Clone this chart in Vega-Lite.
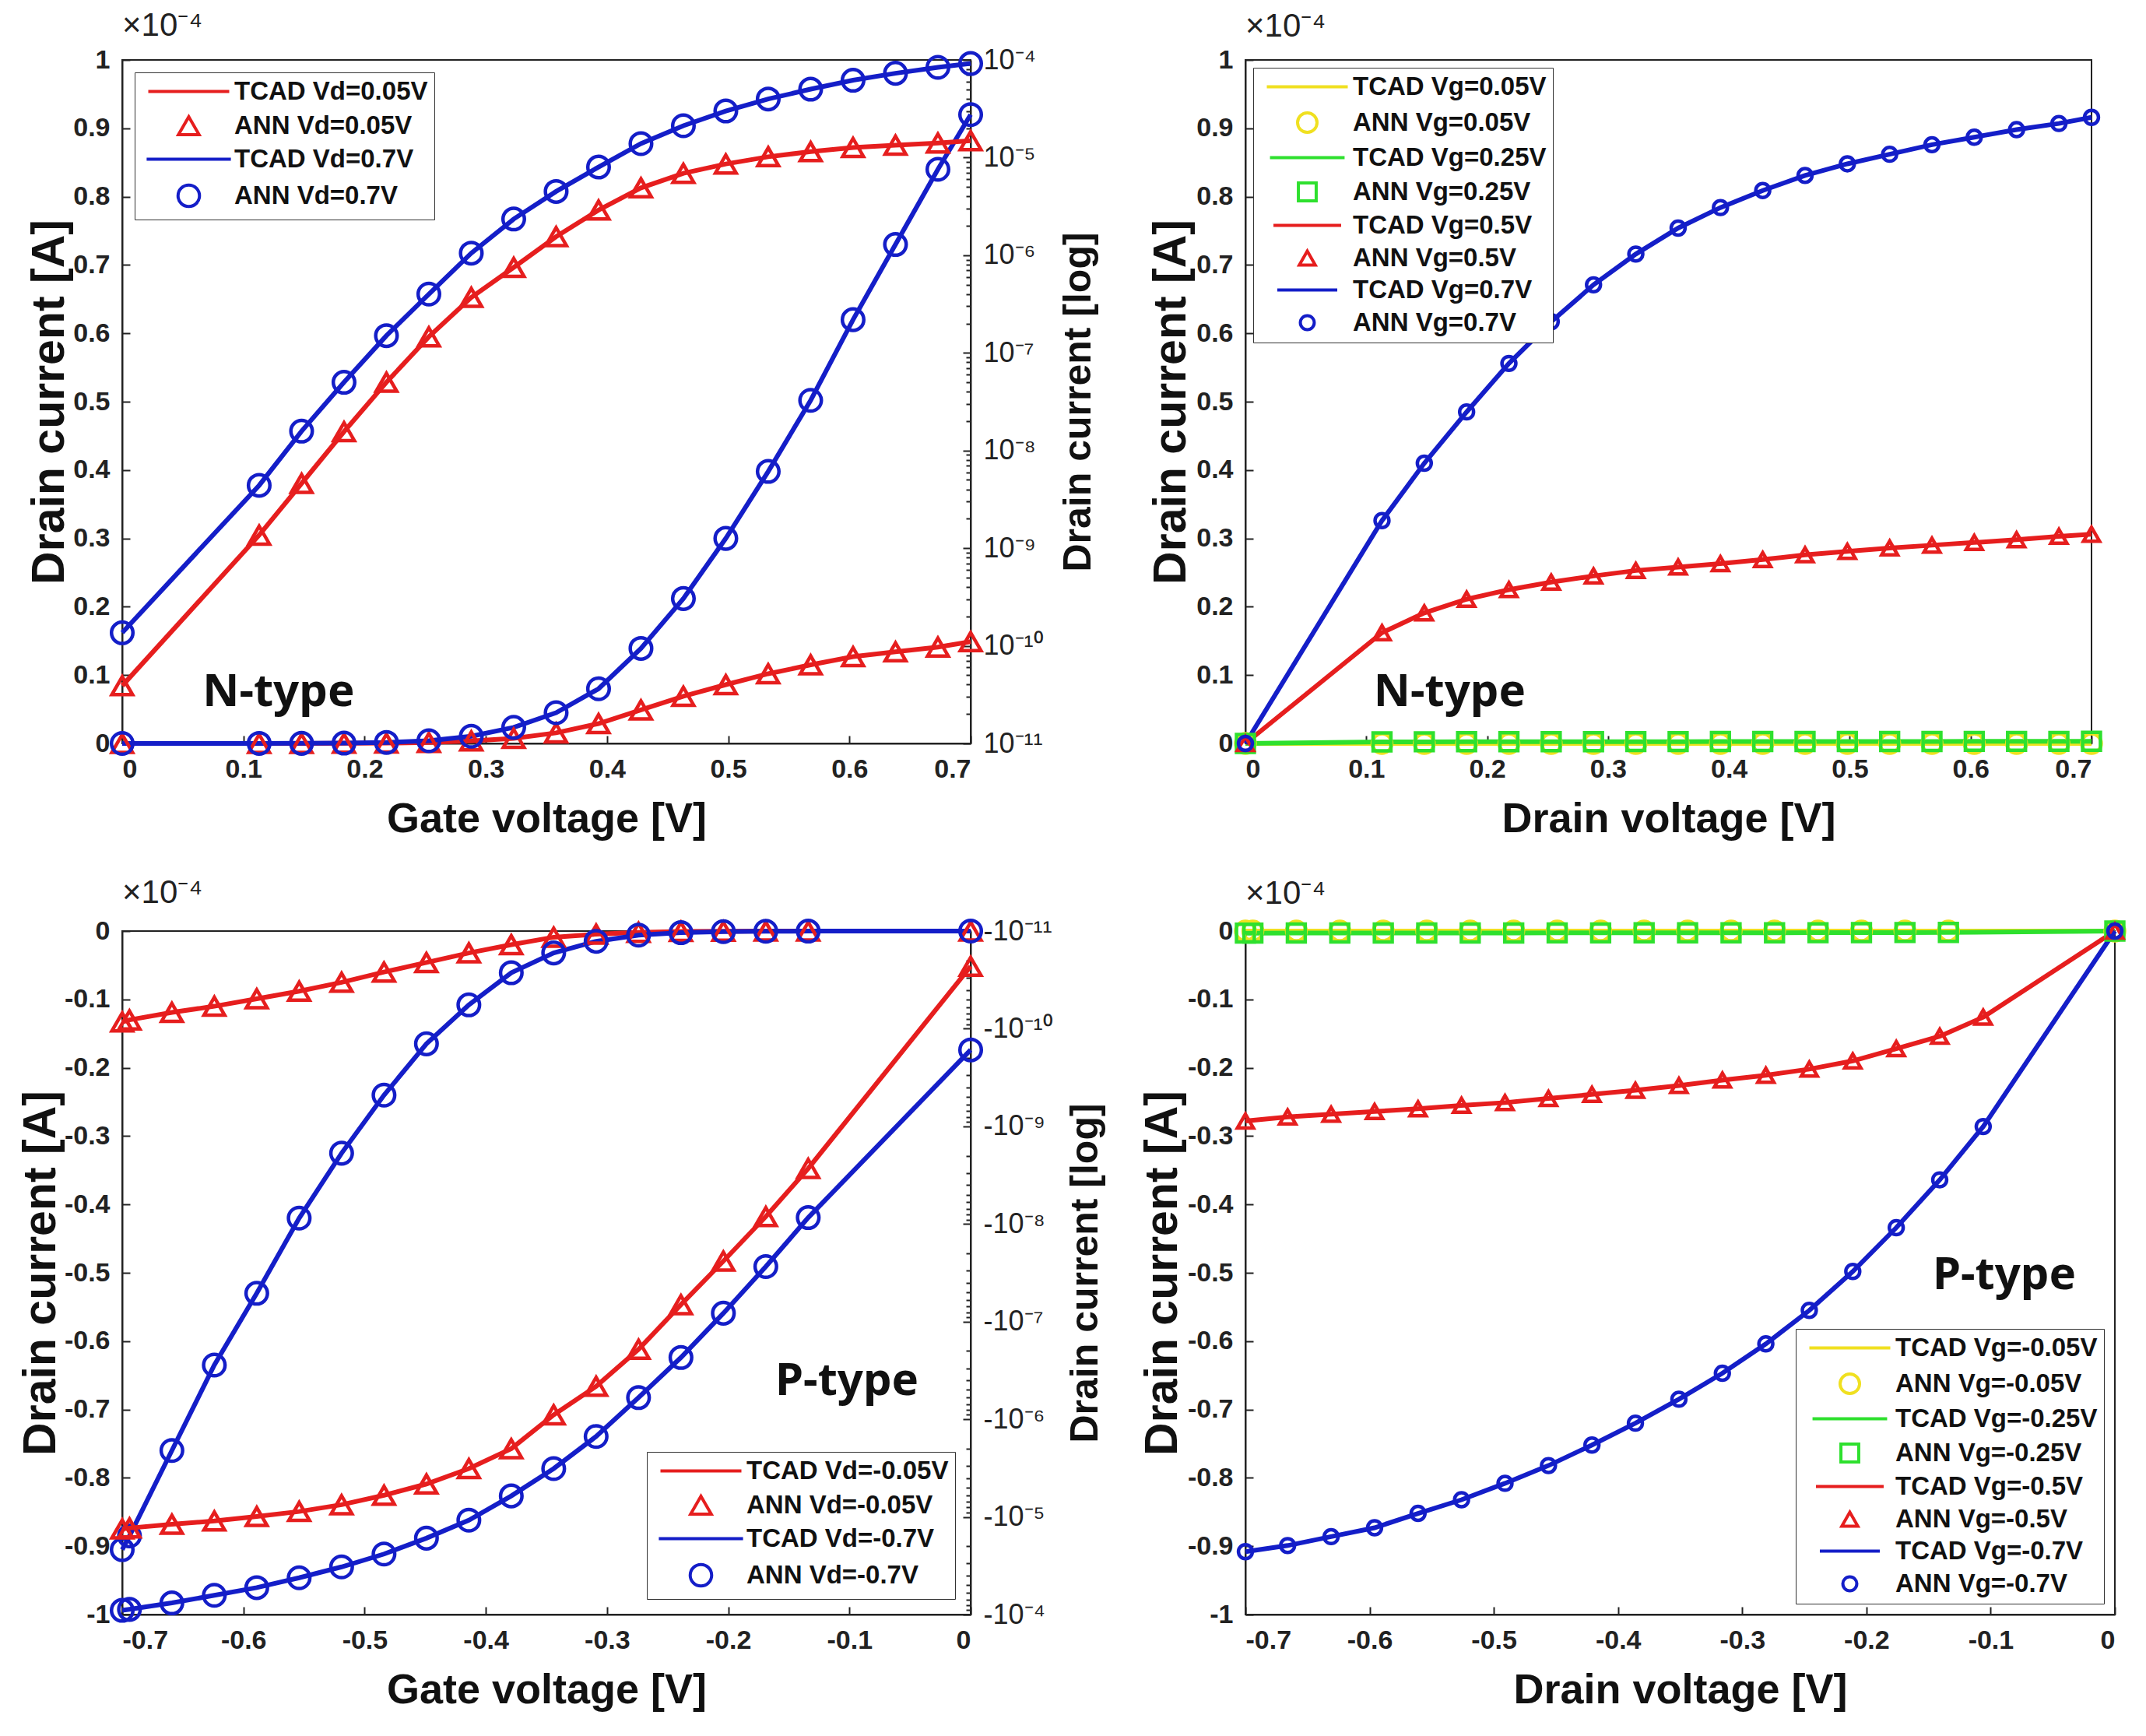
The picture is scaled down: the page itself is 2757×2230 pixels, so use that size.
{
  "$schema": "https://vega.github.io/schema/vega-lite/v6.json",
  "background": "white",
  "padding": {"left": 22, "top": 10, "right": 10, "bottom": 10},
  "config": {
    "font": "Liberation Sans",
    "view": {"stroke": "#222", "strokeWidth": 2},
    "axis": {
      "grid": false,
      "labelFont": "Liberation Sans",
      "labelFontSize": 34,
      "labelFontWeight": "bold",
      "labelColor": "#222",
      "titleFont": "Liberation Sans",
      "titleFontSize": 54,
      "titleFontWeight": "bold",
      "titleColor": "#111",
      "tickSize": -10,
      "tickWidth": 2,
      "tickColor": "#222",
      "labelPadding": 26,
      "domainColor": "#222",
      "domainWidth": 2
    },
    "legend": {
      "fillColor": "white",
      "strokeColor": "#333",
      "padding": 8,
      "labelFont": "Liberation Sans",
      "labelFontSize": 33,
      "labelFontWeight": "bold",
      "labelColor": "#111",
      "labelLimit": 0,
      "symbolStrokeWidth": 4,
      "symbolOffset": 45,
      "labelOffset": 42,
      "rowPadding": 7
    },
    "title": {"font": "Liberation Sans", "fontSize": 42, "fontWeight": "normal", "color": "#222", "anchor": "start", "frame": "group", "offset": 0}
  },
  "datasets": {
    "tl": [
      {"v": 0, "bias": "Vd=0.05V", "id": 3.9e-11},
      {"v": 0.113, "bias": "Vd=0.05V", "id": 1.36e-9},
      {"v": 0.148, "bias": "Vd=0.05V", "id": 4.6e-9},
      {"v": 0.183, "bias": "Vd=0.05V", "id": 1.56e-8},
      {"v": 0.218, "bias": "Vd=0.05V", "id": 5.0e-8},
      {"v": 0.253, "bias": "Vd=0.05V", "id": 1.46e-7},
      {"v": 0.288, "bias": "Vd=0.05V", "id": 3.7e-7},
      {"v": 0.323, "bias": "Vd=0.05V", "id": 7.5e-7},
      {"v": 0.358, "bias": "Vd=0.05V", "id": 1.55e-6},
      {"v": 0.393, "bias": "Vd=0.05V", "id": 2.9e-6},
      {"v": 0.428, "bias": "Vd=0.05V", "id": 4.9e-6},
      {"v": 0.463, "bias": "Vd=0.05V", "id": 6.9e-6},
      {"v": 0.498, "bias": "Vd=0.05V", "id": 8.6e-6},
      {"v": 0.533, "bias": "Vd=0.05V", "id": 1.02e-5},
      {"v": 0.568, "bias": "Vd=0.05V", "id": 1.15e-5},
      {"v": 0.603, "bias": "Vd=0.05V", "id": 1.27e-5},
      {"v": 0.638, "bias": "Vd=0.05V", "id": 1.34e-5},
      {"v": 0.673, "bias": "Vd=0.05V", "id": 1.41e-5},
      {"v": 0.7, "bias": "Vd=0.05V", "id": 1.49e-5},
      {"v": 0, "bias": "Vd=0.7V", "id": 1.36e-10},
      {"v": 0.113, "bias": "Vd=0.7V", "id": 4.4e-9},
      {"v": 0.148, "bias": "Vd=0.7V", "id": 1.58e-8},
      {"v": 0.183, "bias": "Vd=0.7V", "id": 5.0e-8},
      {"v": 0.218, "bias": "Vd=0.7V", "id": 1.5e-7},
      {"v": 0.253, "bias": "Vd=0.7V", "id": 4.0e-7},
      {"v": 0.288, "bias": "Vd=0.7V", "id": 1.05e-6},
      {"v": 0.323, "bias": "Vd=0.7V", "id": 2.35e-6},
      {"v": 0.358, "bias": "Vd=0.7V", "id": 4.5e-6},
      {"v": 0.393, "bias": "Vd=0.7V", "id": 8.0e-6},
      {"v": 0.428, "bias": "Vd=0.7V", "id": 1.39e-5},
      {"v": 0.463, "bias": "Vd=0.7V", "id": 2.12e-5},
      {"v": 0.498, "bias": "Vd=0.7V", "id": 3.0e-5},
      {"v": 0.533, "bias": "Vd=0.7V", "id": 3.98e-5},
      {"v": 0.568, "bias": "Vd=0.7V", "id": 5.02e-5},
      {"v": 0.603, "bias": "Vd=0.7V", "id": 6.2e-5},
      {"v": 0.638, "bias": "Vd=0.7V", "id": 7.3e-5},
      {"v": 0.673, "bias": "Vd=0.7V", "id": 8.4e-5},
      {"v": 0.7, "bias": "Vd=0.7V", "id": 9.2e-5}
    ],
    "tr": [
      {"v": 0, "bias": "Vg=0.05V", "id": 0},
      {"v": 0.113, "bias": "Vg=0.05V", "id": 1.6e-9},
      {"v": 0.148, "bias": "Vg=0.05V", "id": 1.7e-9},
      {"v": 0.183, "bias": "Vg=0.05V", "id": 1.8e-9},
      {"v": 0.218, "bias": "Vg=0.05V", "id": 1.8e-9},
      {"v": 0.253, "bias": "Vg=0.05V", "id": 1.9e-9},
      {"v": 0.288, "bias": "Vg=0.05V", "id": 1.9e-9},
      {"v": 0.323, "bias": "Vg=0.05V", "id": 1.9e-9},
      {"v": 0.358, "bias": "Vg=0.05V", "id": 2.0e-9},
      {"v": 0.393, "bias": "Vg=0.05V", "id": 2.0e-9},
      {"v": 0.428, "bias": "Vg=0.05V", "id": 2.0e-9},
      {"v": 0.463, "bias": "Vg=0.05V", "id": 2.0e-9},
      {"v": 0.498, "bias": "Vg=0.05V", "id": 2.1e-9},
      {"v": 0.533, "bias": "Vg=0.05V", "id": 2.1e-9},
      {"v": 0.568, "bias": "Vg=0.05V", "id": 2.1e-9},
      {"v": 0.603, "bias": "Vg=0.05V", "id": 2.1e-9},
      {"v": 0.638, "bias": "Vg=0.05V", "id": 2.2e-9},
      {"v": 0.673, "bias": "Vg=0.05V", "id": 2.2e-9},
      {"v": 0.7, "bias": "Vg=0.05V", "id": 2.2e-9},
      {"v": 0, "bias": "Vg=0.25V", "id": 0},
      {"v": 0.113, "bias": "Vg=0.25V", "id": 2.3e-7},
      {"v": 0.148, "bias": "Vg=0.25V", "id": 2.4e-7},
      {"v": 0.183, "bias": "Vg=0.25V", "id": 2.5e-7},
      {"v": 0.218, "bias": "Vg=0.25V", "id": 2.5e-7},
      {"v": 0.253, "bias": "Vg=0.25V", "id": 2.6e-7},
      {"v": 0.288, "bias": "Vg=0.25V", "id": 2.6e-7},
      {"v": 0.323, "bias": "Vg=0.25V", "id": 2.7e-7},
      {"v": 0.358, "bias": "Vg=0.25V", "id": 2.7e-7},
      {"v": 0.393, "bias": "Vg=0.25V", "id": 2.8e-7},
      {"v": 0.428, "bias": "Vg=0.25V", "id": 2.8e-7},
      {"v": 0.463, "bias": "Vg=0.25V", "id": 2.8e-7},
      {"v": 0.498, "bias": "Vg=0.25V", "id": 2.9e-7},
      {"v": 0.533, "bias": "Vg=0.25V", "id": 2.9e-7},
      {"v": 0.568, "bias": "Vg=0.25V", "id": 2.9e-7},
      {"v": 0.603, "bias": "Vg=0.25V", "id": 3.0e-7},
      {"v": 0.638, "bias": "Vg=0.25V", "id": 3.0e-7},
      {"v": 0.673, "bias": "Vg=0.25V", "id": 3.0e-7},
      {"v": 0.7, "bias": "Vg=0.25V", "id": 3.1e-7},
      {"v": 0, "bias": "Vg=0.5V", "id": 0},
      {"v": 0.113, "bias": "Vg=0.5V", "id": 1.62e-5},
      {"v": 0.148, "bias": "Vg=0.5V", "id": 1.91e-5},
      {"v": 0.183, "bias": "Vg=0.5V", "id": 2.11e-5},
      {"v": 0.218, "bias": "Vg=0.5V", "id": 2.25e-5},
      {"v": 0.253, "bias": "Vg=0.5V", "id": 2.36e-5},
      {"v": 0.288, "bias": "Vg=0.5V", "id": 2.45e-5},
      {"v": 0.323, "bias": "Vg=0.5V", "id": 2.53e-5},
      {"v": 0.358, "bias": "Vg=0.5V", "id": 2.58e-5},
      {"v": 0.393, "bias": "Vg=0.5V", "id": 2.63e-5},
      {"v": 0.428, "bias": "Vg=0.5V", "id": 2.69e-5},
      {"v": 0.463, "bias": "Vg=0.5V", "id": 2.76e-5},
      {"v": 0.498, "bias": "Vg=0.5V", "id": 2.81e-5},
      {"v": 0.533, "bias": "Vg=0.5V", "id": 2.86e-5},
      {"v": 0.568, "bias": "Vg=0.5V", "id": 2.9e-5},
      {"v": 0.603, "bias": "Vg=0.5V", "id": 2.94e-5},
      {"v": 0.638, "bias": "Vg=0.5V", "id": 2.98e-5},
      {"v": 0.673, "bias": "Vg=0.5V", "id": 3.03e-5},
      {"v": 0.7, "bias": "Vg=0.5V", "id": 3.06e-5},
      {"v": 0, "bias": "Vg=0.7V", "id": 0},
      {"v": 0.113, "bias": "Vg=0.7V", "id": 3.26e-5},
      {"v": 0.148, "bias": "Vg=0.7V", "id": 4.1e-5},
      {"v": 0.183, "bias": "Vg=0.7V", "id": 4.85e-5},
      {"v": 0.218, "bias": "Vg=0.7V", "id": 5.56e-5},
      {"v": 0.253, "bias": "Vg=0.7V", "id": 6.17e-5},
      {"v": 0.288, "bias": "Vg=0.7V", "id": 6.71e-5},
      {"v": 0.323, "bias": "Vg=0.7V", "id": 7.16e-5},
      {"v": 0.358, "bias": "Vg=0.7V", "id": 7.54e-5},
      {"v": 0.393, "bias": "Vg=0.7V", "id": 7.84e-5},
      {"v": 0.428, "bias": "Vg=0.7V", "id": 8.09e-5},
      {"v": 0.463, "bias": "Vg=0.7V", "id": 8.31e-5},
      {"v": 0.498, "bias": "Vg=0.7V", "id": 8.48e-5},
      {"v": 0.533, "bias": "Vg=0.7V", "id": 8.62e-5},
      {"v": 0.568, "bias": "Vg=0.7V", "id": 8.76e-5},
      {"v": 0.603, "bias": "Vg=0.7V", "id": 8.87e-5},
      {"v": 0.638, "bias": "Vg=0.7V", "id": 8.98e-5},
      {"v": 0.673, "bias": "Vg=0.7V", "id": 9.07e-5},
      {"v": 0.7, "bias": "Vg=0.7V", "id": 9.16e-5}
    ],
    "bl": [
      {"v": -0.7, "bias": "Vd=-0.05V", "id": -1.33e-5},
      {"v": -0.694, "bias": "Vd=-0.05V", "id": -1.3e-5},
      {"v": -0.659, "bias": "Vd=-0.05V", "id": -1.19e-5},
      {"v": -0.624, "bias": "Vd=-0.05V", "id": -1.1e-5},
      {"v": -0.589, "bias": "Vd=-0.05V", "id": -9.9e-6},
      {"v": -0.554, "bias": "Vd=-0.05V", "id": -8.8e-6},
      {"v": -0.519, "bias": "Vd=-0.05V", "id": -7.5e-6},
      {"v": -0.484, "bias": "Vd=-0.05V", "id": -6.0e-6},
      {"v": -0.449, "bias": "Vd=-0.05V", "id": -4.6e-6},
      {"v": -0.414, "bias": "Vd=-0.05V", "id": -3.2e-6},
      {"v": -0.379, "bias": "Vd=-0.05V", "id": -2.0e-6},
      {"v": -0.344, "bias": "Vd=-0.05V", "id": -9.0e-7},
      {"v": -0.309, "bias": "Vd=-0.05V", "id": -4.6e-7},
      {"v": -0.274, "bias": "Vd=-0.05V", "id": -1.92e-7},
      {"v": -0.239, "bias": "Vd=-0.05V", "id": -6.7e-8},
      {"v": -0.204, "bias": "Vd=-0.05V", "id": -2.4e-8},
      {"v": -0.169, "bias": "Vd=-0.05V", "id": -8.4e-9},
      {"v": -0.134, "bias": "Vd=-0.05V", "id": -2.7e-9},
      {"v": 0, "bias": "Vd=-0.05V", "id": -2.3e-11},
      {"v": -0.7, "bias": "Vd=-0.7V", "id": -9.05e-5},
      {"v": -0.694, "bias": "Vd=-0.7V", "id": -8.85e-5},
      {"v": -0.659, "bias": "Vd=-0.7V", "id": -7.6e-5},
      {"v": -0.624, "bias": "Vd=-0.7V", "id": -6.35e-5},
      {"v": -0.589, "bias": "Vd=-0.7V", "id": -5.3e-5},
      {"v": -0.554, "bias": "Vd=-0.7V", "id": -4.2e-5},
      {"v": -0.519, "bias": "Vd=-0.7V", "id": -3.25e-5},
      {"v": -0.484, "bias": "Vd=-0.7V", "id": -2.4e-5},
      {"v": -0.449, "bias": "Vd=-0.7V", "id": -1.65e-5},
      {"v": -0.414, "bias": "Vd=-0.7V", "id": -1.08e-5},
      {"v": -0.379, "bias": "Vd=-0.7V", "id": -6.1e-6},
      {"v": -0.344, "bias": "Vd=-0.7V", "id": -3.2e-6},
      {"v": -0.309, "bias": "Vd=-0.7V", "id": -1.5e-6},
      {"v": -0.274, "bias": "Vd=-0.7V", "id": -6.0e-7},
      {"v": -0.239, "bias": "Vd=-0.7V", "id": -2.33e-7},
      {"v": -0.204, "bias": "Vd=-0.7V", "id": -8.2e-8},
      {"v": -0.169, "bias": "Vd=-0.7V", "id": -2.73e-8},
      {"v": -0.134, "bias": "Vd=-0.7V", "id": -8.6e-9},
      {"v": 0, "bias": "Vd=-0.7V", "id": -1.65e-10}
    ],
    "br": [
      {"v": -0.7, "bias": "Vg=-0.05V", "id": -2.2e-9},
      {"v": -0.694, "bias": "Vg=-0.05V", "id": -2.2e-9},
      {"v": -0.659, "bias": "Vg=-0.05V", "id": -2.2e-9},
      {"v": -0.624, "bias": "Vg=-0.05V", "id": -2.1e-9},
      {"v": -0.589, "bias": "Vg=-0.05V", "id": -2.1e-9},
      {"v": -0.554, "bias": "Vg=-0.05V", "id": -2.1e-9},
      {"v": -0.519, "bias": "Vg=-0.05V", "id": -2.0e-9},
      {"v": -0.484, "bias": "Vg=-0.05V", "id": -2.0e-9},
      {"v": -0.449, "bias": "Vg=-0.05V", "id": -2.0e-9},
      {"v": -0.414, "bias": "Vg=-0.05V", "id": -1.9e-9},
      {"v": -0.379, "bias": "Vg=-0.05V", "id": -1.9e-9},
      {"v": -0.344, "bias": "Vg=-0.05V", "id": -1.9e-9},
      {"v": -0.309, "bias": "Vg=-0.05V", "id": -1.8e-9},
      {"v": -0.274, "bias": "Vg=-0.05V", "id": -1.8e-9},
      {"v": -0.239, "bias": "Vg=-0.05V", "id": -1.7e-9},
      {"v": -0.204, "bias": "Vg=-0.05V", "id": -1.7e-9},
      {"v": -0.169, "bias": "Vg=-0.05V", "id": -1.6e-9},
      {"v": -0.134, "bias": "Vg=-0.05V", "id": -1.5e-9},
      {"v": 0, "bias": "Vg=-0.05V", "id": 0},
      {"v": -0.7, "bias": "Vg=-0.25V", "id": -3.0e-7},
      {"v": -0.694, "bias": "Vg=-0.25V", "id": -3.0e-7},
      {"v": -0.659, "bias": "Vg=-0.25V", "id": -2.9e-7},
      {"v": -0.624, "bias": "Vg=-0.25V", "id": -2.9e-7},
      {"v": -0.589, "bias": "Vg=-0.25V", "id": -2.9e-7},
      {"v": -0.554, "bias": "Vg=-0.25V", "id": -2.8e-7},
      {"v": -0.519, "bias": "Vg=-0.25V", "id": -2.8e-7},
      {"v": -0.484, "bias": "Vg=-0.25V", "id": -2.8e-7},
      {"v": -0.449, "bias": "Vg=-0.25V", "id": -2.7e-7},
      {"v": -0.414, "bias": "Vg=-0.25V", "id": -2.7e-7},
      {"v": -0.379, "bias": "Vg=-0.25V", "id": -2.6e-7},
      {"v": -0.344, "bias": "Vg=-0.25V", "id": -2.6e-7},
      {"v": -0.309, "bias": "Vg=-0.25V", "id": -2.5e-7},
      {"v": -0.274, "bias": "Vg=-0.25V", "id": -2.5e-7},
      {"v": -0.239, "bias": "Vg=-0.25V", "id": -2.4e-7},
      {"v": -0.204, "bias": "Vg=-0.25V", "id": -2.3e-7},
      {"v": -0.169, "bias": "Vg=-0.25V", "id": -2.2e-7},
      {"v": -0.134, "bias": "Vg=-0.25V", "id": -2.0e-7},
      {"v": 0, "bias": "Vg=-0.25V", "id": 0},
      {"v": -0.7, "bias": "Vg=-0.5V", "id": -2.78e-5},
      {"v": -0.666, "bias": "Vg=-0.5V", "id": -2.72e-5},
      {"v": -0.631, "bias": "Vg=-0.5V", "id": -2.68e-5},
      {"v": -0.596, "bias": "Vg=-0.5V", "id": -2.64e-5},
      {"v": -0.561, "bias": "Vg=-0.5V", "id": -2.6e-5},
      {"v": -0.526, "bias": "Vg=-0.5V", "id": -2.55e-5},
      {"v": -0.491, "bias": "Vg=-0.5V", "id": -2.51e-5},
      {"v": -0.456, "bias": "Vg=-0.5V", "id": -2.45e-5},
      {"v": -0.421, "bias": "Vg=-0.5V", "id": -2.39e-5},
      {"v": -0.386, "bias": "Vg=-0.5V", "id": -2.33e-5},
      {"v": -0.351, "bias": "Vg=-0.5V", "id": -2.26e-5},
      {"v": -0.316, "bias": "Vg=-0.5V", "id": -2.18e-5},
      {"v": -0.281, "bias": "Vg=-0.5V", "id": -2.11e-5},
      {"v": -0.246, "bias": "Vg=-0.5V", "id": -2.02e-5},
      {"v": -0.211, "bias": "Vg=-0.5V", "id": -1.9e-5},
      {"v": -0.176, "bias": "Vg=-0.5V", "id": -1.72e-5},
      {"v": -0.141, "bias": "Vg=-0.5V", "id": -1.54e-5},
      {"v": -0.106, "bias": "Vg=-0.5V", "id": -1.26e-5},
      {"v": 0, "bias": "Vg=-0.5V", "id": 0},
      {"v": -0.7, "bias": "Vg=-0.7V", "id": -9.08e-5},
      {"v": -0.666, "bias": "Vg=-0.7V", "id": -8.99e-5},
      {"v": -0.631, "bias": "Vg=-0.7V", "id": -8.86e-5},
      {"v": -0.596, "bias": "Vg=-0.7V", "id": -8.73e-5},
      {"v": -0.561, "bias": "Vg=-0.7V", "id": -8.52e-5},
      {"v": -0.526, "bias": "Vg=-0.7V", "id": -8.32e-5},
      {"v": -0.491, "bias": "Vg=-0.7V", "id": -8.08e-5},
      {"v": -0.456, "bias": "Vg=-0.7V", "id": -7.82e-5},
      {"v": -0.421, "bias": "Vg=-0.7V", "id": -7.52e-5},
      {"v": -0.386, "bias": "Vg=-0.7V", "id": -7.2e-5},
      {"v": -0.351, "bias": "Vg=-0.7V", "id": -6.85e-5},
      {"v": -0.316, "bias": "Vg=-0.7V", "id": -6.47e-5},
      {"v": -0.281, "bias": "Vg=-0.7V", "id": -6.04e-5},
      {"v": -0.246, "bias": "Vg=-0.7V", "id": -5.55e-5},
      {"v": -0.211, "bias": "Vg=-0.7V", "id": -4.98e-5},
      {"v": -0.176, "bias": "Vg=-0.7V", "id": -4.34e-5},
      {"v": -0.141, "bias": "Vg=-0.7V", "id": -3.64e-5},
      {"v": -0.106, "bias": "Vg=-0.7V", "id": -2.86e-5},
      {"v": 0, "bias": "Vg=-0.7V", "id": 0}
    ]
  },
  "columns": 2,
  "bounds": "flush",
  "spacing": {"row": 241, "column": 353},
  "resolve": {"scale": {"color": "independent", "shape": "independent", "size": "independent"}},
  "concat": [
    {
      "width": 1090,
      "height": 878,
      "title": "×10⁻⁴",
      "data": {"name": "tl"},
      "transform": [
        {"calculate": "'TCAD ' + datum.bias", "as": "tcad"},
        {"calculate": "'ANN ' + datum.bias", "as": "ann"}
      ],
      "encoding": {
        "x": {
          "field": "v", "type": "quantitative",
          "scale": {"domain": [0, 0.7]},
          "axis": {"title": "Gate voltage [V]", "values": [0, 0.1, 0.2, 0.3, 0.4, 0.5, 0.6, 0.7], "labelExpr": "format(datum.value, '.1~f')", "titlePadding": 20}
        }
      },
      "layer": [
        {
          "encoding": {
            "y": {
              "field": "id", "type": "quantitative",
              "scale": {"domain": [0, 0.0001]},
              "axis": {"title": "Drain current [A]", "titleFontSize": 59, "values": [0, 1e-5, 2e-5, 3e-5, 4e-5, 5e-5, 6e-5, 7e-5, 8e-5, 9e-5, 1e-4], "labelExpr": "format(datum.value * 10000, '.1~f')", "titlePadding": 0}
            }
          },
          "layer": [
            {
              "mark": {"type": "line", "strokeWidth": 6},
              "encoding": {
                "color": {
                  "field": "tcad", "type": "nominal",
                  "scale": {"domain": ["TCAD Vd=0.05V", "ANN Vd=0.05V", "TCAD Vd=0.7V", "ANN Vd=0.7V"], "range": ["#e61e1e", "#e61e1e", "#141ec8", "#141ec8"]},
                  "legend": {"title": null, "orient": "top-left", "offset": 16}
                }
              }
            },
            {
              "mark": {"type": "point", "filled": false, "strokeWidth": 4.5, "opacity": 1},
              "encoding": {
                "color": {
                  "field": "ann", "type": "nominal",
                  "scale": {"domain": ["TCAD Vd=0.05V", "ANN Vd=0.05V", "TCAD Vd=0.7V", "ANN Vd=0.7V"], "range": ["#e61e1e", "#e61e1e", "#141ec8", "#141ec8"]},
                  "legend": {"title": null, "orient": "top-left", "offset": 16}
                },
                "shape": {
                  "field": "ann", "type": "nominal",
                  "scale": {"domain": ["TCAD Vd=0.05V", "ANN Vd=0.05V", "TCAD Vd=0.7V", "ANN Vd=0.7V"], "range": ["M-4,0L4,0", "triangle-up", "M-4,0L4,0", "circle"]},
                  "legend": {"title": null, "orient": "top-left", "offset": 16}
                },
                "size": {
                  "field": "ann", "type": "nominal",
                  "scale": {"domain": ["TCAD Vd=0.05V", "ANN Vd=0.05V", "TCAD Vd=0.7V", "ANN Vd=0.7V"], "range": [676, 760, 676, 620]},
                  "legend": {"title": null, "orient": "top-left", "offset": 16}
                }
              }
            },
            {
              "data": {"values": [{"v": 0.129, "id": 7.4e-6, "label": "N-type"}]},
              "mark": {"type": "text", "font": "Noto Sans", "fontSize": 58, "fontWeight": "bold", "color": "#111"},
              "encoding": {"text": {"field": "label"}}
            }
          ]
        },
        {
          "encoding": {
            "y": {
              "field": "id", "type": "quantitative",
              "scale": {"type": "log", "domain": [1e-11, 1e-4]},
              "axis": {"orient": "right", "title": "Drain current [log]", "titleFontSize": 50, "titleAngle": 270, "titleBaseline": "top", "values": [1e-11, 1e-10, 1e-9, 1e-8, 1e-7, 1e-6, 1e-5, 1e-4], "labelExpr": "'10' + ['⁻¹¹','⁻¹⁰','⁻⁹','⁻⁸','⁻⁷','⁻⁶','⁻⁵','⁻⁴'][round(log(datum.value) / LN10) + 11]", "labelFontWeight": "normal", "labelFontSize": 36, "titlePadding": 20}
            }
          },
          "layer": [
            {
              "mark": {"type": "line", "strokeWidth": 6},
              "encoding": {
                "color": {"field": "tcad", "type": "nominal", "scale": {"domain": ["TCAD Vd=0.05V", "ANN Vd=0.05V", "TCAD Vd=0.7V", "ANN Vd=0.7V"], "range": ["#e61e1e", "#e61e1e", "#141ec8", "#141ec8"]}}
              }
            },
            {
              "mark": {"type": "point", "filled": false, "strokeWidth": 4.5, "opacity": 1},
              "encoding": {
                "y": {
                  "field": "id", "type": "quantitative",
                  "scale": {"type": "log", "domain": [1e-11, 1e-4]},
                  "axis": {"orient": "right", "title": null, "labels": false, "domain": false, "tickSize": -6, "values": [2e-11, 3e-11, 4e-11, 5e-11, 6e-11, 7e-11, 8e-11, 9e-11, 2e-10, 3e-10, 4e-10, 5e-10, 6e-10, 7e-10, 8e-10, 9e-10, 2e-9, 3e-9, 4e-9, 5e-9, 6e-9, 7e-9, 8e-9, 9e-9, 2e-8, 3e-8, 4e-8, 5e-8, 6e-8, 7e-8, 8e-8, 9e-8, 2e-7, 3e-7, 4e-7, 5e-7, 6e-7, 7e-7, 8e-7, 9e-7, 2e-6, 3e-6, 4e-6, 5e-6, 6e-6, 7e-6, 8e-6, 9e-6, 2e-5, 3e-5, 4e-5, 5e-5, 6e-5, 7e-5, 8e-5, 9e-5]}
                },
                "color": {"field": "ann", "type": "nominal", "scale": {"domain": ["TCAD Vd=0.05V", "ANN Vd=0.05V", "TCAD Vd=0.7V", "ANN Vd=0.7V"], "range": ["#e61e1e", "#e61e1e", "#141ec8", "#141ec8"]}},
                "shape": {"field": "ann", "type": "nominal", "scale": {"domain": ["TCAD Vd=0.05V", "ANN Vd=0.05V", "TCAD Vd=0.7V", "ANN Vd=0.7V"], "range": ["M-4,0L4,0", "triangle-up", "M-4,0L4,0", "circle"]}},
                "size": {"field": "ann", "type": "nominal", "scale": {"domain": ["TCAD Vd=0.05V", "ANN Vd=0.05V", "TCAD Vd=0.7V", "ANN Vd=0.7V"], "range": [676, 760, 676, 620]}}
              }
            }
          ],
          "resolve": {"axis": {"y": "independent"}}
        }
      ],
      "resolve": {"scale": {"y": "independent"}}
    },
    {
      "width": 1087,
      "height": 878,
      "title": "×10⁻⁴",
      "data": {"name": "tr"},
      "transform": [
        {"calculate": "'TCAD ' + datum.bias", "as": "tcad"},
        {"calculate": "'ANN ' + datum.bias", "as": "ann"}
      ],
      "encoding": {
        "x": {
          "field": "v", "type": "quantitative",
          "scale": {"domain": [0, 0.7]},
          "axis": {"title": "Drain voltage [V]", "values": [0, 0.1, 0.2, 0.3, 0.4, 0.5, 0.6, 0.7], "labelExpr": "format(datum.value, '.1~f')", "titlePadding": 20}
        },
        "y": {
          "field": "id", "type": "quantitative",
          "scale": {"domain": [0, 0.0001]},
          "axis": {"title": "Drain current [A]", "titleFontSize": 59, "values": [0, 1e-5, 2e-5, 3e-5, 4e-5, 5e-5, 6e-5, 7e-5, 8e-5, 9e-5, 1e-4], "labelExpr": "format(datum.value * 10000, '.1~f')", "titlePadding": 2}
        }
      },
      "layer": [
        {
          "mark": {"type": "line", "strokeWidth": 6},
          "encoding": {
            "color": {
              "field": "tcad", "type": "nominal",
              "scale": {"domain": ["TCAD Vg=0.05V", "ANN Vg=0.05V", "TCAD Vg=0.25V", "ANN Vg=0.25V", "TCAD Vg=0.5V", "ANN Vg=0.5V", "TCAD Vg=0.7V", "ANN Vg=0.7V"], "range": ["#f0e020", "#f0e020", "#2ee02e", "#2ee02e", "#e61e1e", "#e61e1e", "#141ec8", "#141ec8"]},
              "legend": {"title": null, "orient": "top-left", "offset": 10}
            }
          }
        },
        {
          "mark": {"type": "point", "filled": false, "strokeWidth": 4.5, "opacity": 1},
          "encoding": {
            "color": {
              "field": "ann", "type": "nominal",
              "scale": {"domain": ["TCAD Vg=0.05V", "ANN Vg=0.05V", "TCAD Vg=0.25V", "ANN Vg=0.25V", "TCAD Vg=0.5V", "ANN Vg=0.5V", "TCAD Vg=0.7V", "ANN Vg=0.7V"], "range": ["#f0e020", "#f0e020", "#2ee02e", "#2ee02e", "#e61e1e", "#e61e1e", "#141ec8", "#141ec8"]},
              "legend": {"title": null, "orient": "top-left", "offset": 10}
            },
            "shape": {
              "field": "ann", "type": "nominal",
              "scale": {"domain": ["TCAD Vg=0.05V", "ANN Vg=0.05V", "TCAD Vg=0.25V", "ANN Vg=0.25V", "TCAD Vg=0.5V", "ANN Vg=0.5V", "TCAD Vg=0.7V", "ANN Vg=0.7V"], "range": ["M-4,0L4,0", "circle", "M-4,0L4,0", "square", "M-4,0L4,0", "triangle-up", "M-4,0L4,0", "circle"]},
              "legend": {"title": null, "orient": "top-left", "offset": 10}
            },
            "size": {
              "field": "ann", "type": "nominal",
              "scale": {"domain": ["TCAD Vg=0.05V", "ANN Vg=0.05V", "TCAD Vg=0.25V", "ANN Vg=0.25V", "TCAD Vg=0.5V", "ANN Vg=0.5V", "TCAD Vg=0.7V", "ANN Vg=0.7V"], "range": [676, 320, 676, 280, 676, 680, 676, 600]},
              "legend": {"title": null, "orient": "top-left", "offset": 10}
            }
          }
        },
        {
          "data": {"values": [{"v": 0.169, "id": 7.4e-6, "label": "N-type"}]},
          "mark": {"type": "text", "font": "Noto Sans", "fontSize": 58, "fontWeight": "bold", "color": "#111"},
          "encoding": {"text": {"field": "label"}}
        }
      ]
    },
    {
      "width": 1090,
      "height": 878,
      "title": "×10⁻⁴",
      "data": {"name": "bl"},
      "transform": [
        {"calculate": "'TCAD ' + datum.bias", "as": "tcad"},
        {"calculate": "'ANN ' + datum.bias", "as": "ann"}
      ],
      "encoding": {
        "x": {
          "field": "v", "type": "quantitative",
          "scale": {"domain": [-0.7, 0]},
          "axis": {"title": "Gate voltage [V]", "values": [-0.7, -0.6, -0.5, -0.4, -0.3, -0.2, -0.1, 0], "labelExpr": "replace(format(datum.value, '.1~f'), '−', '-')", "titlePadding": 20}
        }
      },
      "layer": [
        {
          "encoding": {
            "y": {
              "field": "id", "type": "quantitative",
              "scale": {"domain": [-0.0001, 0]},
              "axis": {"title": "Drain current [A]", "titleFontSize": 59, "values": [-1e-4, -9e-5, -8e-5, -7e-5, -6e-5, -5e-5, -4e-5, -3e-5, -2e-5, -1e-5, 0], "labelExpr": "replace(format(datum.value * 10000, '.1~f'), '−', '-')", "titlePadding": 0}
            }
          },
          "layer": [
            {
              "mark": {"type": "line", "strokeWidth": 6},
              "encoding": {
                "color": {
                  "field": "tcad", "type": "nominal",
                  "scale": {"domain": ["TCAD Vd=-0.05V", "ANN Vd=-0.05V", "TCAD Vd=-0.7V", "ANN Vd=-0.7V"], "range": ["#e61e1e", "#e61e1e", "#141ec8", "#141ec8"]},
                  "legend": {"title": null, "orient": "bottom-right", "offset": 20}
                }
              }
            },
            {
              "mark": {"type": "point", "filled": false, "strokeWidth": 4.5, "opacity": 1},
              "encoding": {
                "color": {
                  "field": "ann", "type": "nominal",
                  "scale": {"domain": ["TCAD Vd=-0.05V", "ANN Vd=-0.05V", "TCAD Vd=-0.7V", "ANN Vd=-0.7V"], "range": ["#e61e1e", "#e61e1e", "#141ec8", "#141ec8"]},
                  "legend": {"title": null, "orient": "bottom-right", "offset": 20}
                },
                "shape": {
                  "field": "ann", "type": "nominal",
                  "scale": {"domain": ["TCAD Vd=-0.05V", "ANN Vd=-0.05V", "TCAD Vd=-0.7V", "ANN Vd=-0.7V"], "range": ["M-4,0L4,0", "triangle-up", "M-4,0L4,0", "circle"]},
                  "legend": {"title": null, "orient": "bottom-right", "offset": 20}
                },
                "size": {
                  "field": "ann", "type": "nominal",
                  "scale": {"domain": ["TCAD Vd=-0.05V", "ANN Vd=-0.05V", "TCAD Vd=-0.7V", "ANN Vd=-0.7V"], "range": [676, 760, 676, 620]},
                  "legend": {"title": null, "orient": "bottom-right", "offset": 20}
                }
              }
            },
            {
              "data": {"values": [{"v": -0.102, "id": -6.6e-5, "label": "P-type"}]},
              "mark": {"type": "text", "font": "Noto Sans", "fontSize": 58, "fontWeight": "bold", "color": "#111"},
              "encoding": {"text": {"field": "label"}}
            }
          ]
        },
        {
          "encoding": {
            "y": {
              "field": "id", "type": "quantitative",
              "scale": {"type": "log", "domain": [-1e-4, -1e-11]},
              "axis": {"orient": "right", "title": "Drain current [log]", "titleFontSize": 50, "titleAngle": 270, "titleBaseline": "top", "values": [-1e-11, -1e-10, -1e-9, -1e-8, -1e-7, -1e-6, -1e-5, -1e-4], "labelExpr": "'-10' + ['⁻¹¹','⁻¹⁰','⁻⁹','⁻⁸','⁻⁷','⁻⁶','⁻⁵','⁻⁴'][round(log(-datum.value) / LN10) + 11]", "labelFontWeight": "normal", "labelFontSize": 36, "titlePadding": 17}
            }
          },
          "layer": [
            {
              "mark": {"type": "line", "strokeWidth": 6},
              "encoding": {
                "color": {"field": "tcad", "type": "nominal", "scale": {"domain": ["TCAD Vd=-0.05V", "ANN Vd=-0.05V", "TCAD Vd=-0.7V", "ANN Vd=-0.7V"], "range": ["#e61e1e", "#e61e1e", "#141ec8", "#141ec8"]}}
              }
            },
            {
              "mark": {"type": "point", "filled": false, "strokeWidth": 4.5, "opacity": 1},
              "encoding": {
                "y": {
                  "field": "id", "type": "quantitative",
                  "scale": {"type": "log", "domain": [-1e-4, -1e-11]},
                  "axis": {"orient": "right", "title": null, "labels": false, "domain": false, "tickSize": -6, "values": [-2e-11, -3e-11, -4e-11, -5e-11, -6e-11, -7e-11, -8e-11, -9e-11, -2e-10, -3e-10, -4e-10, -5e-10, -6e-10, -7e-10, -8e-10, -9e-10, -2e-9, -3e-9, -4e-9, -5e-9, -6e-9, -7e-9, -8e-9, -9e-9, -2e-8, -3e-8, -4e-8, -5e-8, -6e-8, -7e-8, -8e-8, -9e-8, -2e-7, -3e-7, -4e-7, -5e-7, -6e-7, -7e-7, -8e-7, -9e-7, -2e-6, -3e-6, -4e-6, -5e-6, -6e-6, -7e-6, -8e-6, -9e-6, -2e-5, -3e-5, -4e-5, -5e-5, -6e-5, -7e-5, -8e-5, -9e-5]}
                },
                "color": {"field": "ann", "type": "nominal", "scale": {"domain": ["TCAD Vd=-0.05V", "ANN Vd=-0.05V", "TCAD Vd=-0.7V", "ANN Vd=-0.7V"], "range": ["#e61e1e", "#e61e1e", "#141ec8", "#141ec8"]}},
                "shape": {"field": "ann", "type": "nominal", "scale": {"domain": ["TCAD Vd=-0.05V", "ANN Vd=-0.05V", "TCAD Vd=-0.7V", "ANN Vd=-0.7V"], "range": ["M-4,0L4,0", "triangle-up", "M-4,0L4,0", "circle"]}},
                "size": {"field": "ann", "type": "nominal", "scale": {"domain": ["TCAD Vd=-0.05V", "ANN Vd=-0.05V", "TCAD Vd=-0.7V", "ANN Vd=-0.7V"], "range": [676, 760, 676, 620]}}
              }
            }
          ],
          "resolve": {"axis": {"y": "independent"}}
        }
      ],
      "resolve": {"scale": {"y": "independent"}}
    },
    {
      "width": 1117,
      "height": 878,
      "title": "×10⁻⁴",
      "data": {"name": "br"},
      "transform": [
        {"calculate": "'TCAD ' + datum.bias", "as": "tcad"},
        {"calculate": "'ANN ' + datum.bias", "as": "ann"}
      ],
      "encoding": {
        "x": {
          "field": "v", "type": "quantitative",
          "scale": {"domain": [-0.7, 0]},
          "axis": {"title": "Drain voltage [V]", "values": [-0.7, -0.6, -0.5, -0.4, -0.3, -0.2, -0.1, 0], "labelExpr": "replace(format(datum.value, '.1~f'), '−', '-')", "titlePadding": 20}
        },
        "y": {
          "field": "id", "type": "quantitative",
          "scale": {"domain": [-0.0001, 0]},
          "axis": {"title": "Drain current [A]", "titleFontSize": 59, "values": [-1e-4, -9e-5, -8e-5, -7e-5, -6e-5, -5e-5, -4e-5, -3e-5, -2e-5, -1e-5, 0], "labelExpr": "replace(format(datum.value * 10000, '.1~f'), '−', '-')", "titlePadding": 2}
        }
      },
      "layer": [
        {
          "mark": {"type": "line", "strokeWidth": 6},
          "encoding": {
            "color": {
              "field": "tcad", "type": "nominal",
              "scale": {"domain": ["TCAD Vg=-0.05V", "ANN Vg=-0.05V", "TCAD Vg=-0.25V", "ANN Vg=-0.25V", "TCAD Vg=-0.5V", "ANN Vg=-0.5V", "TCAD Vg=-0.7V", "ANN Vg=-0.7V"], "range": ["#f0e020", "#f0e020", "#2ee02e", "#2ee02e", "#e61e1e", "#e61e1e", "#141ec8", "#141ec8"]},
              "legend": {"title": null, "orient": "bottom-right", "offset": 14}
            }
          }
        },
        {
          "mark": {"type": "point", "filled": false, "strokeWidth": 4.5, "opacity": 1},
          "encoding": {
            "color": {
              "field": "ann", "type": "nominal",
              "scale": {"domain": ["TCAD Vg=-0.05V", "ANN Vg=-0.05V", "TCAD Vg=-0.25V", "ANN Vg=-0.25V", "TCAD Vg=-0.5V", "ANN Vg=-0.5V", "TCAD Vg=-0.7V", "ANN Vg=-0.7V"], "range": ["#f0e020", "#f0e020", "#2ee02e", "#2ee02e", "#e61e1e", "#e61e1e", "#141ec8", "#141ec8"]},
              "legend": {"title": null, "orient": "bottom-right", "offset": 14}
            },
            "shape": {
              "field": "ann", "type": "nominal",
              "scale": {"domain": ["TCAD Vg=-0.05V", "ANN Vg=-0.05V", "TCAD Vg=-0.25V", "ANN Vg=-0.25V", "TCAD Vg=-0.5V", "ANN Vg=-0.5V", "TCAD Vg=-0.7V", "ANN Vg=-0.7V"], "range": ["M-4,0L4,0", "circle", "M-4,0L4,0", "square", "M-4,0L4,0", "triangle-up", "M-4,0L4,0", "circle"]},
              "legend": {"title": null, "orient": "bottom-right", "offset": 14}
            },
            "size": {
              "field": "ann", "type": "nominal",
              "scale": {"domain": ["TCAD Vg=-0.05V", "ANN Vg=-0.05V", "TCAD Vg=-0.25V", "ANN Vg=-0.25V", "TCAD Vg=-0.5V", "ANN Vg=-0.5V", "TCAD Vg=-0.7V", "ANN Vg=-0.7V"], "range": [676, 320, 676, 280, 676, 680, 676, 600]},
              "legend": {"title": null, "orient": "bottom-right", "offset": 14}
            }
          }
        },
        {
          "data": {"values": [{"v": -0.089, "id": -5.04e-5, "label": "P-type"}]},
          "mark": {"type": "text", "font": "Noto Sans", "fontSize": 58, "fontWeight": "bold", "color": "#111"},
          "encoding": {"text": {"field": "label"}}
        }
      ]
    }
  ]
}
